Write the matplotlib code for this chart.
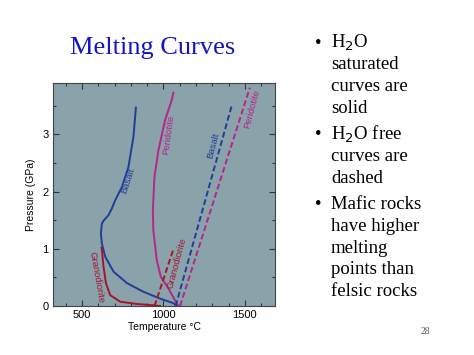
import matplotlib
matplotlib.use("Agg")
import matplotlib.pyplot as plt
from matplotlib.ticker import MultipleLocator

# ---- data ----
basalt_wet_T = [831, 816, 785, 745, 704, 684, 663, 632, 622, 616, 622, 643, 694, 776, 877, 979, 1061, 1082]
basalt_wet_P = [3.47, 2.96, 2.43, 2.08, 1.85, 1.71, 1.59, 1.49, 1.44, 1.27, 1.09, 0.86, 0.60, 0.40, 0.25, 0.13, 0.05, 0.0]
perid_wet_T = [1061, 1051, 1010, 969, 945, 935, 938, 959, 984, 1030, 1071, 1092]
perid_wet_P = [3.73, 3.60, 3.25, 2.72, 2.26, 1.68, 1.33, 0.80, 0.51, 0.31, 0.10, 0.0]
grano_wet_T = [620, 622, 632, 647, 673, 735, 837, 939, 979]
grano_wet_P = [1.02, 0.99, 0.69, 0.40, 0.19, 0.075, 0.035, 0.012, 0.0]
grano_dry_T = [945, 1061]
grano_dry_P = [0.0, 0.99]
basalt_dry_T = [1075, 1418]
basalt_dry_P = [0.0, 3.49]
perid_dry_T = [1102, 1531]
perid_dry_P = [0.0, 3.82]

xticks = [500, 1000, 1500]
yticks = [0, 1, 2, 3]
bullets = [
    ["H$_2$O", "saturated", "curves are", "solid"],
    ["H$_2$O free", "curves are", "dashed"],
    ["Mafic rocks", "have higher", "melting", "points than", "felsic rocks"],
]

BLUE = "#1f3e96"
MAG = "#b3268a"
RED = "#a3142f"
BG = "#8aa2aa"

W, H = 474, 355
fig = plt.figure(figsize=(W / 100, H / 100), dpi=100)
fig.patch.set_facecolor("white")

ax = fig.add_axes([53 / W, (H - 306) / H, (275 - 53) / W, (306 - 83) / H])
ax.set_facecolor(BG)
ax.set_xlim(322, 1685)
ax.set_ylim(0, 3.9)

lw = 1.4
ax.plot(basalt_wet_T, basalt_wet_P, color=BLUE, lw=lw)
ax.plot(perid_wet_T, perid_wet_P, color=MAG, lw=lw)
ax.plot(grano_wet_T, grano_wet_P, color=RED, lw=lw)
ax.plot(grano_dry_T, grano_dry_P, color=RED, lw=lw, ls=(0, (3, 1.5)))
ax.plot(basalt_dry_T, basalt_dry_P, color=BLUE, lw=lw, ls=(0, (3, 1.5)))
ax.plot(perid_dry_T, perid_dry_P, color=MAG, lw=lw, ls=(0, (3, 1.5)))

lf = dict(family="Liberation Sans", fontsize=6.8, ha="center", va="center")
ax.text(782, 2.2, "Basalt", color=BLUE, rotation=72, **lf)
ax.text(1031, 3.0, "Peridotite", color=MAG, rotation=82, **lf)
ax.text(592, 0.5, "Granodiorite", color=RED, rotation=-80, **lf)
ax.text(1085, 0.75, "Granodiorite", color=RED, rotation=75, **lf)
ax.text(1306, 2.8, "Basalt", color=BLUE, rotation=75, **lf)
ax.text(1545, 3.45, "Peridotite", color=MAG, rotation=75, **lf)

ax.set_xticks(xticks)
ax.set_yticks(yticks)
ax.xaxis.set_minor_locator(MultipleLocator(100))
ax.yaxis.set_minor_locator(MultipleLocator(0.5))
ax.tick_params(which="both", direction="in", top=True, right=True, color="#333333",
               labelsize=8, pad=3)
ax.tick_params(which="major", length=4, width=0.8)
ax.tick_params(which="minor", length=2.5, width=0.8)
for lab in ax.get_xticklabels() + ax.get_yticklabels():
    lab.set_family("Liberation Sans")
for s in ax.spines.values():
    s.set_color("#444444")
    s.set_linewidth(0.8)
ax.set_xlabel("Temperature °C", family="Liberation Sans", fontsize=7.5, labelpad=1)
ax.set_ylabel("Pressure (GPa)", family="Liberation Sans", fontsize=7.5, labelpad=5)

fig.text(153 / W, 1 - 48 / H, "Melting Curves", family="Liberation Serif",
         fontsize=19, color="#1414c8", ha="center", va="center")

y = 43
for group in bullets:
    fig.text(315 / W, 1 - y / H, "•", family="Liberation Serif", fontsize=13.5,
             color="black", ha="left", va="center")
    for line in group:
        fig.text(331 / W, 1 - y / H, line, family="Liberation Serif", fontsize=13.5,
                 color="black", ha="left", va="center")
        y += 21.7
    y += 5

fig.text(425 / W, 1 - 332 / H, "28", family="Liberation Serif", fontsize=7,
         color="#555555", ha="center", va="center")

fig.savefig("out.png", dpi=100)
